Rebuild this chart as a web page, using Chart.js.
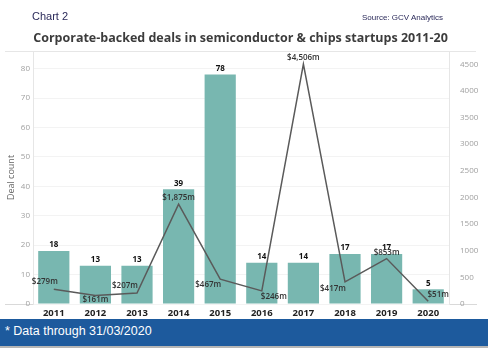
<!DOCTYPE html>
<html lang="en">
<head>
    <meta charset="UTF-8">
    <title>Corporate-backed deals in semiconductor & chips startups</title>
    <script src="https://cdn.jsdelivr.net/npm/chart.js"></script>
    <style>
        body { margin: 0; width: 488px; height: 348px; background: #fff; overflow: hidden; position: relative; }
        .chart-no { position: absolute; left: 32px; top: 10px; font: 11px Arial, "Liberation Sans", sans-serif; color: #2b2a5a; }
        .source { position: absolute; left: 362px; top: 13px; font: 8px Arial, "Liberation Sans", sans-serif; color: #2b2a5a; }
        .title { position: absolute; left: 33px; width: 415px; top: 29px; text-align: center; font: bold 12.5px "Open Sans", sans-serif; color: #3c3c3c; white-space: nowrap; }
        .chart-box { position: absolute; left: 0; top: 0; width: 488px; height: 320px; }
        .footer { position: absolute; left: 0; top: 319px; width: 488px; height: 27px; background: #1d5a9d; border-bottom: 2px solid #b5b5b5; }
        .footer p { margin: 0; padding: 5px 0 0 5px; font: 12.5px Arial, "Liberation Sans", sans-serif; color: #fff; }
    </style>
</head>
<body>
    <div class="chart-box">
        <canvas id="dealsChart"></canvas>
    </div>
    <div class="chart-no">Chart 2</div>
    <div class="source">Source: GCV Analytics</div>
    <div class="title">Corporate-backed deals in semiconductor &amp; chips startups 2011-20</div>
    <div class="footer"><p>* Data through 31/03/2020</p></div>
    <script>
        const years = ['2011', '2012', '2013', '2014', '2015', '2016', '2017', '2018', '2019', '2020'];
        const dealCount = [18, 13, 13, 39, 78, 14, 14, 17, 17, 5];
        const dealValue = [279, 161, 207, 1875, 467, 246, 4506, 417, 853, 51];
        const valueLabels = ['$279m', '$161m', '$207m', '$1,875m', '$467m', '$246m', '$4,506m', '$417m', '$853m', '$51m'];
        const countTicks = [0, 10, 20, 30, 40, 50, 60, 70, 80];
        const valueTicks = [0, 500, 1000, 1500, 2000, 2500, 3000, 3500, 4000, 4500];

        // where each $ label sits relative to its point
        const valueLabelOffset = [[-9, -7], [0, 4], [-12, -7], [0, -6], [-12, 6], [12, 6], [0, -6], [-12, 7], [0, -6], [10, -7]];

        const framePlugin = {
            id: 'frame',
            beforeDraw(chart) {
                const c = chart.ctx;
                const a = chart.chartArea;
                c.save();
                c.strokeStyle = '#e6e6e6';
                c.lineWidth = 1;
                c.beginPath();
                c.moveTo(5, a.top + 0.5);
                c.lineTo(476, a.top + 0.5);
                c.stroke();
                c.strokeStyle = '#d9d9d9';
                c.beginPath();
                c.moveTo(5, a.bottom + 0.5);
                c.lineTo(477, a.bottom + 0.5);
                c.stroke();
                c.restore();
            },
            afterDatasetsDraw(chart) {
                const c = chart.ctx;
                c.save();
                c.textAlign = 'center';
                c.textBaseline = 'middle';
                c.fillStyle = '#111';
                c.font = 'bold 8px "Open Sans", sans-serif';
                chart.getDatasetMeta(1).data.forEach((bar, i) => {
                    c.fillText(dealCount[i], bar.x, bar.y - 6);
                });
                c.fillStyle = '#333';
                c.font = '600 8px "Open Sans", sans-serif';
                chart.getDatasetMeta(0).data.forEach((pt, i) => {
                    const off = valueLabelOffset[i];
                    c.fillText(valueLabels[i], pt.x + off[0], pt.y + off[1]);
                });
                c.restore();
            }
        };

        const keepTicks = list => scale => {
            scale.ticks = list.map(v => ({ value: v }));
        };

        new Chart(document.getElementById('dealsChart'), {
            data: {
                labels: years,
                datasets: [
                    {
                        type: 'line',
                        label: 'Deal value ($m)',
                        data: dealValue,
                        yAxisID: 'yValue',
                        borderColor: '#5a5a5a',
                        borderWidth: 1.5,
                        pointRadius: 0,
                        tension: 0,
                        order: 0
                    },
                    {
                        type: 'bar',
                        label: 'Deal count',
                        data: dealCount,
                        yAxisID: 'yCount',
                        backgroundColor: '#78b7b0',
                        categoryPercentage: 1,
                        barPercentage: 0.75,
                        order: 1
                    }
                ]
            },
            options: {
                responsive: true,
                maintainAspectRatio: false,
                animation: false,
                layout: { padding: { top: 51, left: 0, right: 0, bottom: 0 } },
                plugins: {
                    legend: { display: false },
                    tooltip: { enabled: false }
                },
                scales: {
                    x: {
                        grid: { display: false },
                        border: { display: false },
                        ticks: {
                            color: '#222',
                            padding: -4,
                            font: { family: '"Open Sans", sans-serif', size: 9.5, weight: 'bold' }
                        },
                        afterFit: s => { s.height = 16; }
                    },
                    yCount: {
                        position: 'left',
                        min: 0,
                        max: 86,
                        afterBuildTicks: keepTicks(countTicks),
                        grid: { color: '#f3f3f3', drawTicks: false },
                        border: { color: '#e6e6e6' },
                        ticks: {
                            color: '#a0a0a0',
                            padding: 3,
                            font: { family: '"Open Sans", sans-serif', size: 8 }
                        },
                        title: {
                            display: true,
                            text: 'Deal count',
                            color: '#666',
                            padding: { top: 6, bottom: 0 },
                            font: { family: '"Open Sans", sans-serif', size: 9 }
                        },
                        afterFit: s => { s.width = 33; }
                    },
                    yValue: {
                        position: 'right',
                        min: 0,
                        max: 4750,
                        afterBuildTicks: keepTicks(valueTicks),
                        grid: { display: false },
                        border: { color: '#e6e6e6' },
                        ticks: {
                            color: '#a0a0a0',
                            padding: 3,
                            callback: v => String(v),
                            font: { family: '"Open Sans", sans-serif', size: 8 }
                        },
                        afterFit: s => { s.width = 39; }
                    }
                }
            },
            plugins: [framePlugin]
        });
    </script>
</body>
</html>
